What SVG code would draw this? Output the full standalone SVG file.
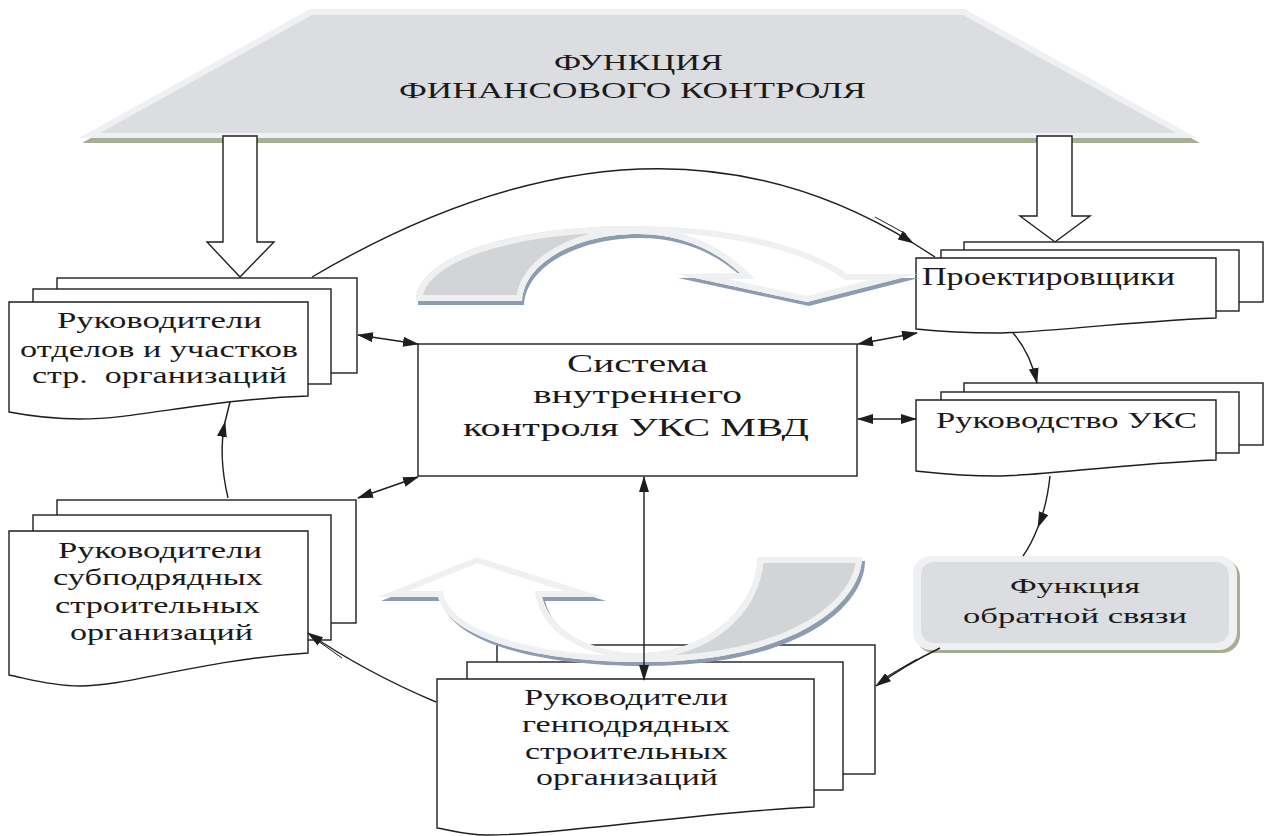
<svg xmlns="http://www.w3.org/2000/svg" xmlns:xlink="http://www.w3.org/1999/xlink" width="1264" height="836" viewBox="0 0 1264 836">
<style>
text{font-family:"Liberation Serif","DejaVu Serif","Times New Roman",serif;fill:#1a1a1a;}
.doc{fill:#fff;stroke:#1e1e1e;stroke-width:1.4;}
.ln{fill:none;stroke:#1e1e1e;stroke-width:1.4;}
.thin{fill:none;stroke:#1e1e1e;stroke-width:1;}
.hollow{fill:#fff;stroke:#1e1e1e;stroke-width:1.4;}
</style>
<defs>
<marker id="ah" viewBox="0 0 16 10" refX="15" refY="5" markerWidth="16" markerHeight="10" markerUnits="userSpaceOnUse" orient="auto-start-reverse">
<path d="M0,0 L16,5 L0,10 Z" fill="#1e1e1e"/>
</marker>
<path id="uaP" d="M416,301 C416,258 505,226 637,226 C740,226 815,250 847,274 L917,274 L807,302 L676,274 L740,273 C716,251 682,234 638,234 C577,234 524,262 522,301 Z"/>
<path id="laP" d="M378,597 L477,557 L603,597 L542,597 C550,630 590,653 641,653 C700,653 755,615 758,557 L862,557 C862,600 800,662 641,662 C540,662 450,640 438,597 Z"/>
<clipPath id="uaC"><use xlink:href="#uaP"/></clipPath>
<clipPath id="laC"><use xlink:href="#laP"/></clipPath>
</defs>
<rect width="1264" height="836" fill="#fff"/>

<g id="finance-function">
<polygon points="82,143 313,14 968,14 1200,143" fill="#a8ad95"/>
<polygon points="79,138 310,9 965,9 1197,138" fill="#eff0f2"/>
<polygon points="100,133 312,15 963,15 1176,133" fill="#dcdde0"/>
<text x="554" y="70" font-size="24" textLength="169" lengthAdjust="spacingAndGlyphs">ФУНКЦИЯ</text>
<text x="399" y="98" font-size="24" textLength="467" lengthAdjust="spacingAndGlyphs">ФИНАНСОВОГО КОНТРОЛЯ</text>
</g>

<g id="hollow-arrows">
<path class="hollow" d="M223,136 H257 V242 H274 L240,277 L207,242 H223 Z"/>
<path class="hollow" d="M1037,136 H1072 V216 H1090 L1055,242 L1020,216 H1037 Z"/>
</g>

<g id="dept-heads">
<rect class="doc" x="57" y="278" width="300" height="95"/>
<rect class="doc" x="33" y="289" width="298" height="95"/>
<path class="doc" d="M9,302 H308 V396 C200,400 140,419 80,419 C50,419 25,415 9,412 Z"/>
<text x="57" y="328" font-size="23" textLength="205" lengthAdjust="spacingAndGlyphs">Руководители</text>
<text x="20" y="357" font-size="23" textLength="278" lengthAdjust="spacingAndGlyphs">отделов и участков</text>
<text x="32" y="383" font-size="23" textLength="255" lengthAdjust="spacingAndGlyphs" xml:space="preserve">стр.  организаций</text>
</g>

<g id="designers">
<rect class="doc" x="964" y="242" width="299" height="60"/>
<rect class="doc" x="941" y="250" width="298" height="61"/>
<path class="doc" d="M916,258 H1216 V318 C1120,322 1040,333 997,333 C960,333 935,331 916,329 Z"/>
<text x="922" y="285" font-size="25" textLength="253" lengthAdjust="spacingAndGlyphs">Проектировщики</text>
</g>

<g id="uks-management">
<rect class="doc" x="964" y="383" width="299" height="62"/>
<rect class="doc" x="941" y="392" width="298" height="61"/>
<path class="doc" d="M916,400 H1216 V460 C1120,464 1040,476 997,476 C960,476 935,473 916,471 Z"/>
<text x="936" y="428" font-size="24" textLength="261" lengthAdjust="spacingAndGlyphs">Руководство УКС</text>
</g>

<g id="subcontractors">
<rect class="doc" x="57" y="500" width="299" height="123"/>
<rect class="doc" x="33" y="515" width="298" height="125"/>
<path class="doc" d="M9,531 H308 V653 C200,660 130,686 80,686 C50,686 25,678 9,675 Z"/>
<text x="58" y="558" font-size="23" textLength="204" lengthAdjust="spacingAndGlyphs">Руководители</text>
<text x="53" y="585" font-size="23" textLength="210" lengthAdjust="spacingAndGlyphs">субподрядных</text>
<text x="55" y="613" font-size="23" textLength="205" lengthAdjust="spacingAndGlyphs">строительных</text>
<text x="70" y="640" font-size="23" textLength="183" lengthAdjust="spacingAndGlyphs">организаций</text>
</g>

<g id="general-contractors">
<rect class="doc" x="497" y="645" width="378" height="129"/>
<rect class="doc" x="467" y="662" width="376" height="128"/>
<path class="doc" d="M437,679 H814 V807 C700,812 560,835 487,835 C465,835 450,830 437,828 Z"/>
<text x="524" y="705" font-size="23" textLength="204" lengthAdjust="spacingAndGlyphs">Руководители</text>
<text x="522" y="732" font-size="23" textLength="208" lengthAdjust="spacingAndGlyphs">генподрядных</text>
<text x="525" y="759" font-size="23" textLength="203" lengthAdjust="spacingAndGlyphs">строительных</text>
<text x="536" y="785" font-size="23" textLength="182" lengthAdjust="spacingAndGlyphs">организаций</text>
</g>

<g id="internal-control">
<rect class="doc" x="418" y="344" width="439" height="132"/>
<text x="567" y="372" font-size="26" textLength="141" lengthAdjust="spacingAndGlyphs">Система</text>
<text x="533" y="403" font-size="26" textLength="209" lengthAdjust="spacingAndGlyphs">внутреннего</text>
<text x="463" y="436" font-size="26" textLength="346" lengthAdjust="spacingAndGlyphs">контроля УКС МВД</text>
</g>

<g id="feedback-function">
<rect x="916" y="559" width="324" height="94" rx="18" fill="#a7ad92"/>
<rect x="913" y="556" width="324" height="94" rx="18" fill="#eff0f2"/>
<rect x="921" y="562" width="308" height="81" rx="13" fill="#dcdde0"/>
<text x="1010" y="593" font-size="22" textLength="130" lengthAdjust="spacingAndGlyphs">Функция</text>
<text x="963" y="623" font-size="22" textLength="224" lengthAdjust="spacingAndGlyphs">обратной связи</text>
</g>

<g id="cycle-arrow-top">
<use xlink:href="#uaP" transform="translate(2,4)" fill="#8d9cb1"/>
<use xlink:href="#uaP" fill="#fff"/>
<rect x="400" y="215" width="232" height="95" fill="#d3d4d6" clip-path="url(#uaC)"/>
<use xlink:href="#uaP" fill="none" stroke="#eff0f2" stroke-width="12" clip-path="url(#uaC)"/>
</g>

<g id="cycle-arrow-bottom">
<use xlink:href="#laP" transform="translate(3,4)" fill="#8d9cb1"/>
<use xlink:href="#laP" fill="#fff"/>
<rect x="648" y="550" width="222" height="120" fill="#d3d4d6" clip-path="url(#laC)"/>
<use xlink:href="#laP" fill="none" stroke="#eff0f2" stroke-width="12" clip-path="url(#laC)"/>
</g>

<g id="connectors">
<path class="ln" d="M312,277 Q648,79 913,243" marker-end="url(#ah)"/>
<path class="ln" d="M913,243 L935,257"/>
<path class="thin" d="M875,217 L906,234"/>
<path class="ln" d="M1013,333 Q1030,352 1037,383" marker-end="url(#ah)"/>
<path class="ln" d="M1050,476 Q1047,505 1038,527" marker-end="url(#ah)"/>
<path class="ln" d="M1038,527 Q1031,545 1023,556"/>
<path class="ln" d="M940,648 Q905,665 876,686" marker-end="url(#ah)"/>
<path class="thin" d="M917,659 L886,677"/>
<path class="ln" d="M436,702 Q365,672 308,633" marker-end="url(#ah)"/>
<path class="thin" d="M342,658 L318,641"/>
<path class="ln" d="M228,498 Q218,455 225,422" marker-end="url(#ah)"/>
<path class="ln" d="M225,422 L230,402"/>
<path class="ln" d="M358,335 L418,344" marker-start="url(#ah)" marker-end="url(#ah)"/>
<path class="ln" d="M358,498 L418,477" marker-start="url(#ah)" marker-end="url(#ah)"/>
<path class="ln" d="M858,344 L917,333" marker-start="url(#ah)" marker-end="url(#ah)"/>
<path class="ln" d="M858,419 L916,419" marker-start="url(#ah)" marker-end="url(#ah)"/>
<path class="ln" d="M644,477 L644,680" marker-start="url(#ah)" marker-end="url(#ah)"/>
</g>
</svg>
